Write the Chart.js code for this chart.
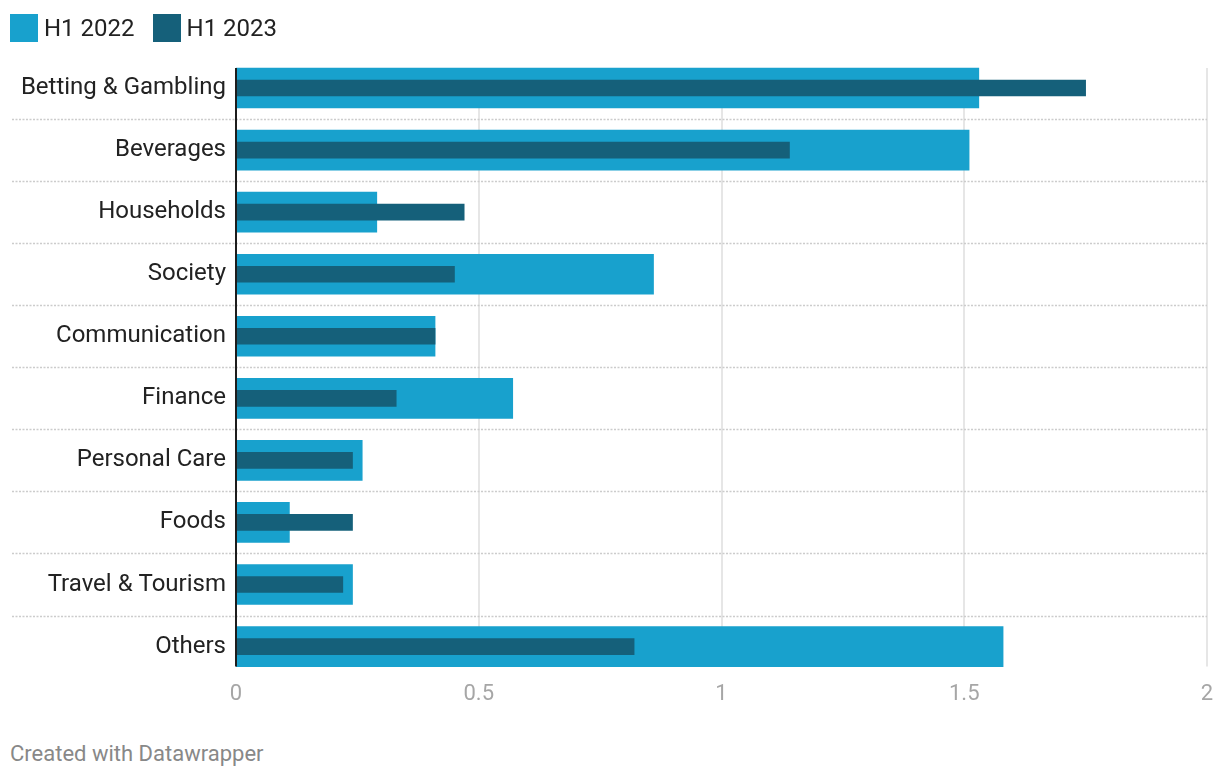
<!DOCTYPE html>
<html lang="en">
<head>
    <meta charset="UTF-8">
    <title>H1 2022 vs H1 2023</title>
    <script src="https://cdn.jsdelivr.net/npm/chart.js"></script>
    <style>
        html, body { margin: 0; padding: 0; background: #fff; }
        .wrap { position: relative; width: 1220px; height: 780px; font-family: Roboto, sans-serif; }
        #chart { position: absolute; left: 0; top: 0; }
        .legend { position: absolute; left: 10px; top: 14px; display: flex; font-size: 24px; color: #222; line-height: 28px; }
        .legend span { display: flex; align-items: center; margin-right: 18px; }
        .legend i { display: inline-block; width: 28px; height: 28px; margin-right: 6px; }
        .credit { position: absolute; left: 10px; top: 741px; font-size: 22px; color: #888; }
    </style>
</head>
<body>
    <div class="wrap">
        <canvas id="chart" width="1220" height="730"></canvas>
        <div class="legend" id="legend"></div>
        <div class="credit">Created with Datawrapper</div>
    </div>

    <script>
        const categories = ['Betting & Gambling', 'Beverages', 'Households', 'Society', 'Communication',
            'Finance', 'Personal Care', 'Foods', 'Travel & Tourism', 'Others'];
        const h1_2022 = [1.53, 1.51, 0.29, 0.86, 0.41, 0.57, 0.26, 0.11, 0.24, 1.58];
        const h1_2023 = [1.75, 1.14, 0.47, 0.45, 0.41, 0.33, 0.24, 0.24, 0.22, 0.82];
        const xTicks = [0, 0.5, 1, 1.5, 2];

        // dotted row separators + vertical grid + axis line, datawrapper style
        const rowLines = {
            id: 'rowLines',
            beforeDatasetsDraw(chart) {
                const ctx = chart.ctx;
                const x = chart.scales.x, y = chart.scales.y;
                const top = y.getPixelForValue(0) - 20;
                const bottom = y.getPixelForValue(categories.length - 1) + 20;
                ctx.save();
                ctx.strokeStyle = '#e6e6e6';
                ctx.lineWidth = 2;
                xTicks.slice(1).forEach(v => {
                    const px = Math.round(x.getPixelForValue(v));
                    ctx.beginPath();
                    ctx.moveTo(px, top);
                    ctx.lineTo(px, bottom);
                    ctx.stroke();
                });
                ctx.strokeStyle = '#cccccc';
                ctx.lineWidth = 1.5;
                ctx.setLineDash([2, 1.5]);
                for (let i = 0; i < categories.length - 1; i++) {
                    const py = Math.round((y.getPixelForValue(i) + y.getPixelForValue(i + 1)) / 2) + 0.5;
                    ctx.beginPath();
                    ctx.moveTo(12, py);
                    ctx.lineTo(x.right, py);
                    ctx.stroke();
                }
                ctx.restore();
            },
            afterDatasetsDraw(chart) {
                const ctx = chart.ctx;
                const x = chart.scales.x, y = chart.scales.y;
                const px = x.getPixelForValue(0);
                ctx.save();
                ctx.strokeStyle = '#1d1d1d';
                ctx.lineWidth = 2;
                ctx.beginPath();
                ctx.moveTo(px, y.getPixelForValue(0) - 20);
                ctx.lineTo(px, y.getPixelForValue(categories.length - 1) + 20);
                ctx.stroke();
                ctx.restore();
            }
        };

        const ctx = document.getElementById('chart').getContext('2d');
        const chart = new Chart(ctx, {
            type: 'bar',
            data: {
                labels: categories,
                datasets: [{
                    label: 'H1 2022',
                    data: h1_2022,
                    backgroundColor: '#18a1cd',
                    barThickness: 40,
                    grouped: false,
                    order: 1
                }, {
                    label: 'H1 2023',
                    data: h1_2023,
                    backgroundColor: '#15607a',
                    barThickness: 16,
                    grouped: false,
                    order: 0
                }]
            },
            options: {
                indexAxis: 'y',
                responsive: false,
                animation: false,
                layout: { padding: { left: 0, right: 13, top: 57, bottom: 18 } },
                plugins: {
                    legend: { display: false },
                    tooltip: { enabled: false }
                },
                scales: {
                    x: {
                        min: 0,
                        max: 2,
                        afterBuildTicks: (axis) => { axis.ticks = xTicks.map(v => ({ value: v })); },
                        grid: { display: false, drawTicks: false },
                        border: { display: false },
                        ticks: {
                            color: '#a6a6a6',
                            padding: 4,
                            font: { family: 'Roboto', size: 22 },
                            callback: (v) => String(v)
                        }
                    },
                    y: {
                        grid: { display: false, drawTicks: false },
                        border: { display: false },
                        afterFit: (axis) => { axis.width = 236; },
                        ticks: {
                            color: '#222',
                            padding: 10,
                            font: { family: 'Roboto', size: 24 }
                        }
                    }
                }
            },
            plugins: [rowLines]
        });

        // legend as html, like datawrapper does it
        const legendEl = document.getElementById('legend');
        chart.data.datasets.forEach(ds => {
            const item = document.createElement('span');
            const box = document.createElement('i');
            box.style.background = ds.backgroundColor;
            item.appendChild(box);
            item.appendChild(document.createTextNode(ds.label));
            legendEl.appendChild(item);
        });
    </script>
</body>
</html>
